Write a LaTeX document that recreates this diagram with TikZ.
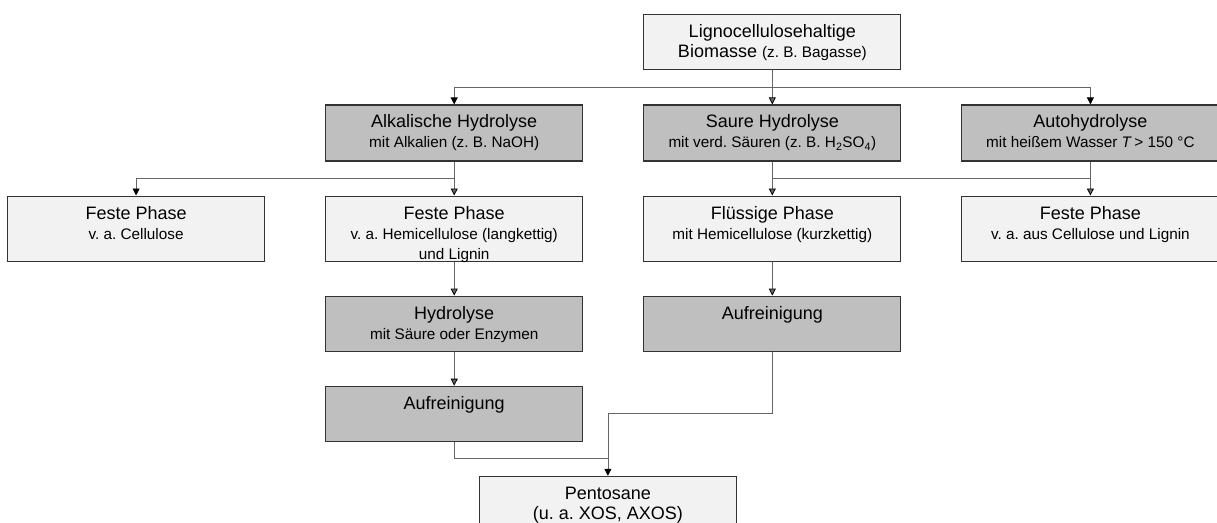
\documentclass[tikz,border=0pt]{standalone}
\usepackage{fontspec}
\setmainfont{Liberation Sans}
\frenchspacing
\usetikzlibrary{positioning,arrows.meta}
\definecolor{boxlight}{HTML}{F2F2F2}
\definecolor{boxdark}{HTML}{BFBFBF}
\newcommand{\sm}[1]{{\fontsize{15.3}{20}\selectfont #1}}
\newcommand{\boxtext}[2]{\parbox[c][#1][t]{257pt}{\centering\rule{0pt}{23pt}#2}}
\tikzstyle{every picture}+=[>={Triangle[width=7pt,length=7pt,color=black]}]
\tikzstyle{every picture}+=[node distance=34pt and 60pt]
\tikzstyle{phase}=[draw=black!80, line width=1.1pt, fill=boxlight, inner sep=0pt]
\tikzstyle{phase}+=[font=\fontsize{18}{20}\selectfont]
\tikzstyle{process}=[phase, fill=boxdark]
\tikzstyle{link}=[color=black!60, line width=0.8pt]

\begin{document}
\begin{tikzpicture}
\useasboundingbox (0,0) rectangle (1217pt,-522pt);

\node[phase,anchor=north] (bio) at (772.3pt,-14.3pt)
  {\boxtext{55pt}{Lignocellulosehaltige\\Biomasse \sm{(z. B. Bagasse)}}};
\node[process] (saure) [below=of bio]
  {\boxtext{56pt}{Saure Hydrolyse\\\sm{mit verd. Säuren (z. B. H\textsubscript{2}SO\textsubscript{4})}}};
\node[process] (alk) [left=of saure]
  {\boxtext{56pt}{Alkalische Hydrolyse\\\sm{mit Alkalien (z. B. NaOH)}}};
\node[process] (auto) [right=of saure]
  {\boxtext{56pt}{Autohydrolyse\\\sm{mit heißem Wasser \textit{T}\,> 150 °C}}};

\node[phase] (festeM) [below=of alk]
  {\boxtext{65pt}{Feste Phase\\\sm{v. a. Hemicellulose (langkettig)}\\\sm{und Lignin}}};
\node[phase] (festeL) [left=of festeM]
  {\boxtext{65pt}{Feste Phase\\\sm{v. a. Cellulose}}};
\node[phase] (fluessig) [below=of saure]
  {\boxtext{65pt}{Flüssige Phase\\\sm{mit Hemicellulose (kurzkettig)}}};
\node[phase] (festeR) [below=of auto]
  {\boxtext{65pt}{Feste Phase\\\sm{v. a. aus Cellulose und Lignin}}};

\node[process] (hydro) [below=of festeM]
  {\boxtext{55pt}{Hydrolyse\\\sm{mit Säure oder Enzymen}}};
\node[process] (aufL) [below=of hydro] {\boxtext{55pt}{Aufreinigung}};
\node[process] (aufR) [below=of fluessig] {\boxtext{55pt}{Aufreinigung}};
\node[phase] (pento) [below=of aufL, xshift=153.7pt]
  {\boxtext{60pt}{Pentosane\\(u. a. XOS, AXOS)}};

\coordinate[below=17pt of bio] (split1);
\coordinate[below=17pt of alk] (split2);
\coordinate[below=17pt of saure] (split3);
\coordinate[below=17pt of auto] (split4);
\coordinate[below=62pt of aufR] (bendR);
\coordinate[above=17pt of pento] (merge);

% lines without tips
\path[link]
  (bio) edge (split1)
  (alk) edge (split2)
  (split3) edge (split4)
  ;
\draw[link] (aufL) |- (merge);

% arrows
\path[link,->]
  (split1) edge (saure)
  (split2) edge (festeM)
  (saure) edge (fluessig)
  (auto) edge (festeR)
  (festeM) edge (hydro)
  (hydro) edge (aufL)
  (fluessig) edge (aufR)
  ;
\draw[link,->] (split1) -| (alk);
\draw[link,->] (split1) -| (auto);
\draw[link,->] (split2) -| (festeL);
\draw[link,->] (aufR) |- (bendR) -| (pento);
\end{tikzpicture}
\end{document}
